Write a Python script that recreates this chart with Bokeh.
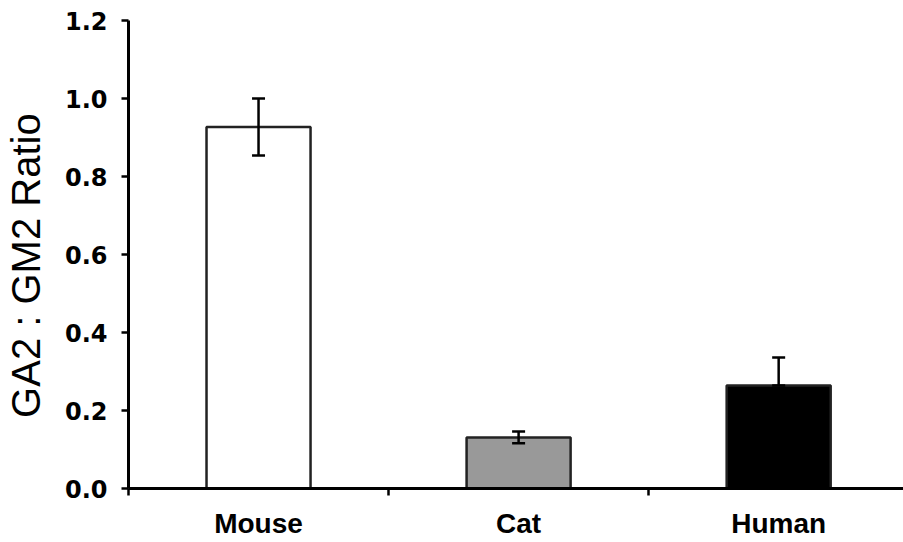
from bokeh.plotting import figure
from bokeh.models import ColumnDataSource, FixedTicker, Range1d, Whisker, TeeHead
from bokeh.embed import file_html
from bokeh.resources import INLINE

categories = ["Mouse", "Cat", "Human"]
ratios = [0.927, 0.131, 0.264]
err_upper = [1.0, 0.146, 0.336]
err_lower = [0.854, 0.116, 0.264]
bar_colors = ["#ffffff", "#999999", "#000000"]
y_ticks = [0.0, 0.2, 0.4, 0.6, 0.8, 1.0, 1.2]

xs = [i + 0.5 for i in range(len(categories))]
src = ColumnDataSource(dict(x=xs, top=ratios, upper=err_upper, lower=err_lower,
                            color=bar_colors, name=categories))

p = figure(width=903, height=542, output_backend="svg", toolbar_location=None,
           x_range=Range1d(0, 2.98), y_range=Range1d(0, 1.2),
           min_border_left=128, min_border_top=20, min_border_right=0,
           min_border_bottom=54)
p.outline_line_color = None
p.xgrid.grid_line_color = None
p.ygrid.grid_line_color = None
p.background_fill_color = "white"

p.vbar(x="x", top="top", width=0.4, bottom=0, source=src, fill_color="color",
       line_color="#222222", line_width=2.5)

w = Whisker(base="x", upper="upper", lower="lower", source=src, level="annotation",
            line_color="black", line_width=2.5,
            upper_head=TeeHead(size=13, line_width=2.5, line_color="black"),
            lower_head=TeeHead(size=13, line_width=2.5, line_color="black"))
p.add_layout(w)

# x axis
xa = p.xaxis[0]
xa.ticker = FixedTicker(ticks=xs, minor_ticks=[0, 1, 2])
xa.major_label_overrides = {x: c for x, c in zip(xs, categories)}
xa.major_tick_out = 0
xa.major_tick_in = 0
xa.minor_tick_out = 7
xa.minor_tick_in = 0
xa.minor_tick_line_width = 2.5
xa.minor_tick_line_color = "black"
xa.axis_line_width = 3
xa.axis_line_color = "black"
xa.major_label_text_font = "Liberation Sans"
xa.major_label_text_font_style = "bold"
xa.major_label_text_font_size = "28px"
xa.major_label_text_color = "black"
xa.major_label_standoff = 12

# y axis
ya = p.yaxis[0]
ya.ticker = FixedTicker(ticks=y_ticks, minor_ticks=[])
ya.major_label_overrides = {t: f"{t:.1f}" for t in y_ticks}
ya.major_tick_out = 7
ya.major_tick_in = 0
ya.major_tick_line_width = 2.5
ya.major_tick_line_color = "black"
ya.axis_line_width = 3
ya.axis_line_color = "black"
ya.major_label_text_font = "DejaVu Sans"
ya.major_label_text_font_style = "bold"
ya.major_label_text_font_size = "24px"
ya.major_label_text_color = "black"
ya.major_label_standoff = 14
ya.axis_label = "GA2 : GM2 Ratio\u00a0\u00a0"
ya.axis_label_text_font = "Liberation Sans"
ya.axis_label_text_font_style = "normal"
ya.axis_label_text_font_size = "40px"
ya.axis_label_text_color = "black"
ya.axis_label_standoff = 14

open("out.html", "w").write(file_html(p, INLINE))
